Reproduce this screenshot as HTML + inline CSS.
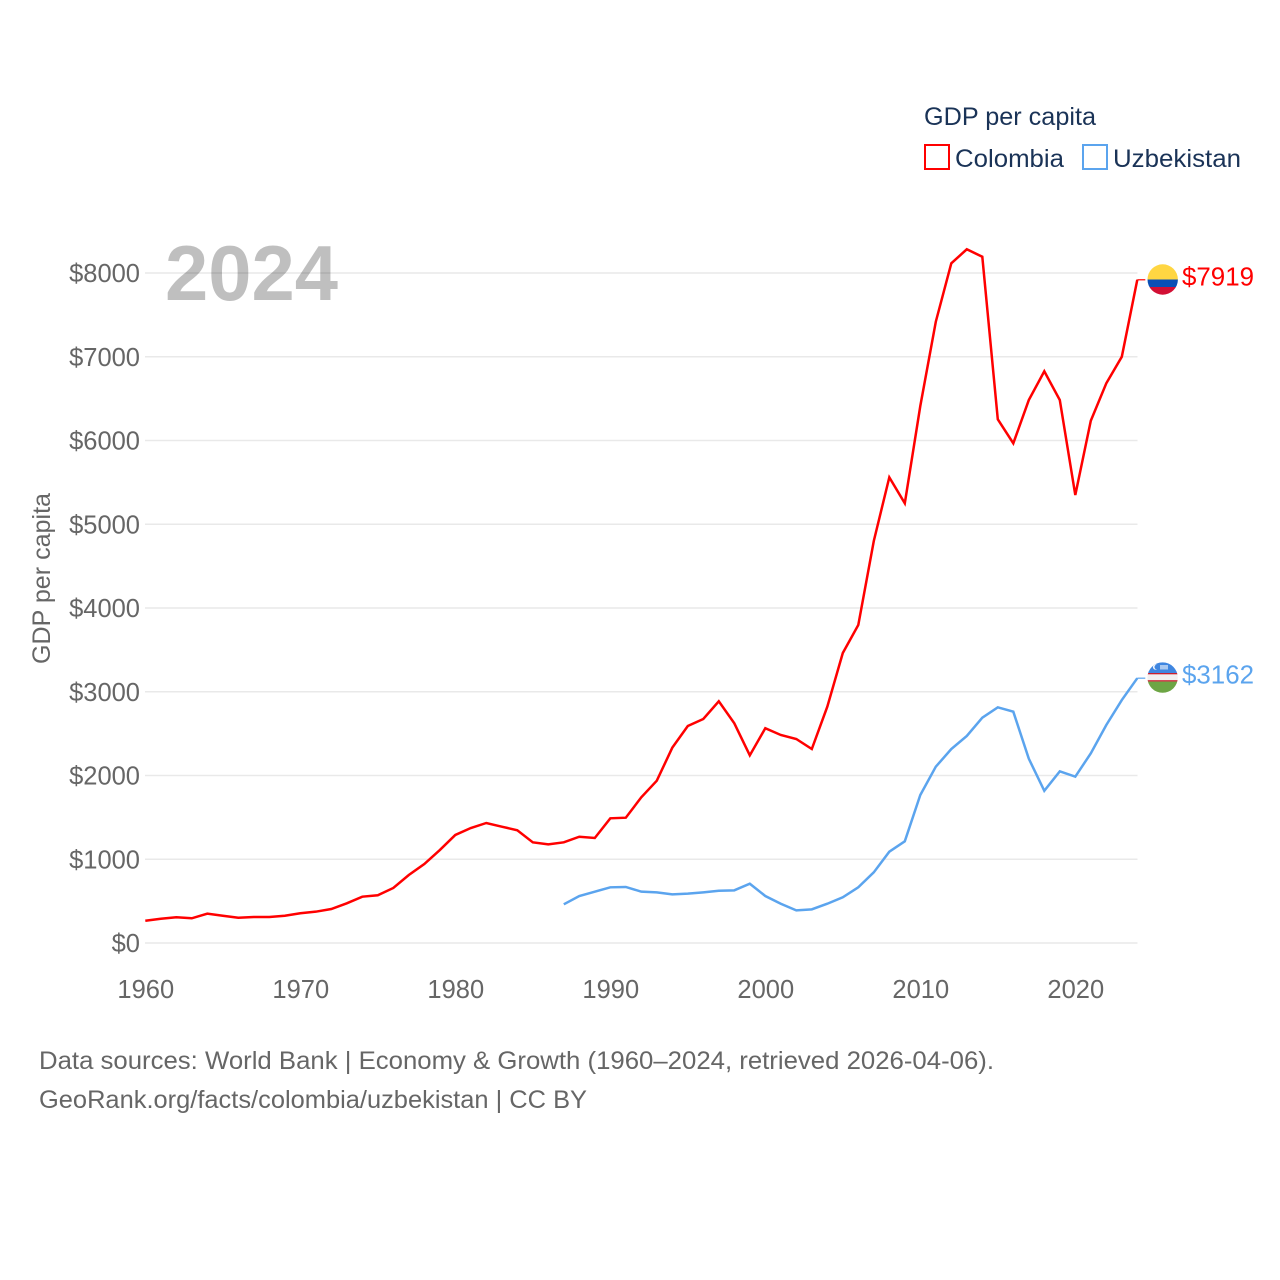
<!DOCTYPE html>
<html lang="en">
<head>
<meta charset="utf-8">
<title>GDP per capita: Colombia and Uzbekistan</title>
<style>
html,body{margin:0;padding:0;background:#fff;width:1280px;height:1280px;overflow:hidden}
svg{display:block}
text{font-family:"Liberation Sans",sans-serif}
</style>
</head>
<body>
<svg id="chart" xmlns="http://www.w3.org/2000/svg" width="1280" height="1280" viewBox="0 0 1280 1280">
  <defs>
    <clipPath id="clip-co"><circle cx="1162.7" cy="279.5" r="15.2"/></clipPath>
    <clipPath id="clip-uz"><circle cx="1162.6" cy="677.6" r="15.2"/></clipPath>
  </defs>
  <rect width="1280" height="1280" fill="#ffffff"/>
  <g id="grid"></g>
  <g id="yticks"></g>
  <g id="xticks"></g>
  <text x="165" y="300" font-size="78" font-weight="bold" fill="#000000" fill-opacity="0.25" textLength="173" lengthAdjust="spacingAndGlyphs">2024</text>
  <text transform="translate(50,578.5) rotate(-90)" text-anchor="middle" font-size="25" fill="#666666" textLength="171" lengthAdjust="spacingAndGlyphs">GDP per capita</text>
  <g id="series"></g>

  <g clip-path="url(#clip-co)">
    <rect x="1145" y="262" width="36" height="17.5" fill="#ffd642"/>
    <rect x="1145" y="279.5" width="36" height="7.5" fill="#0a4fb5"/>
    <rect x="1145" y="287" width="36" height="10" fill="#d20f34"/>
  </g>
  <text x="1182" y="285.5" font-size="25.5" fill="#ff0000" textLength="72" lengthAdjust="spacingAndGlyphs">$7919</text>

  <g clip-path="url(#clip-uz)">
    <rect x="1145" y="660" width="36" height="13" fill="#3f86e0"/>
    <rect x="1145" y="673" width="36" height="1.4" fill="#c9202f"/>
    <rect x="1145" y="674.4" width="36" height="5.8" fill="#f2f0f0"/>
    <rect x="1145" y="680.2" width="36" height="1.4" fill="#c9202f"/>
    <rect x="1145" y="681.6" width="36" height="14.4" fill="#6da544"/>
    <circle cx="1155.5" cy="667" r="2.6" fill="#f2f6fc"/>
    <circle cx="1156.8" cy="667" r="2.3" fill="#3f86e0"/>
    <rect x="1160" y="665" width="8" height="4.5" fill="#a9c8f0"/>
  </g>
  <text x="1182" y="683.5" font-size="25.5" fill="#5ba4ee" textLength="72" lengthAdjust="spacingAndGlyphs">$3162</text>

  <g>
    <text x="924" y="125" font-size="25" fill="#1a3357" textLength="172" lengthAdjust="spacingAndGlyphs">GDP per capita</text>
    <g>
      <rect x="925" y="145" width="24" height="24" fill="#ffffff" stroke="#ff0000" stroke-width="2"/>
      <text x="955" y="167" font-size="25" fill="#1a3357" textLength="109" lengthAdjust="spacingAndGlyphs">Colombia</text>
    </g>
    <g>
      <rect x="1083" y="145" width="24" height="24" fill="#ffffff" stroke="#5ba4ee" stroke-width="2"/>
      <text x="1113" y="167" font-size="25" fill="#1a3357" textLength="128" lengthAdjust="spacingAndGlyphs">Uzbekistan</text>
    </g>
  </g>

  <text x="39" y="1069" font-size="25" fill="#666666" textLength="955" lengthAdjust="spacingAndGlyphs">Data sources: World Bank | Economy &amp; Growth (1960–2024, retrieved 2026-04-06).</text>
  <text x="39" y="1108" font-size="25" fill="#666666" textLength="548" lengthAdjust="spacingAndGlyphs">GeoRank.org/facts/colombia/uzbekistan | CC BY</text>
</svg>
<script>
const firstYearColombia = 1960;
const colombiaValues = [266,290,307,295,350,326,302,310,310,326,355,374,406,474,553,570,657,812,943,1110,1290,1373,1433,1389,1346,1202,1178,1202,1269,1254,1489,1496,1740,1938,2332,2591,2675,2886,2623,2241,2564,2484,2436,2316,2821,3463,3797,4800,5560,5250,6412,7418,8116,8283,8194,6253,5966,6483,6826,6483,5349,6236,6683,7000,7919];
const firstYearUzbekistan = 1987;
const uzbekistanValues = [462,561,613,665,669,613,605,581,589,605,624,629,708,561,469,390,402,469,546,665,844,1090,1214,1767,2105,2316,2472,2690,2814,2762,2201,1818,2050,1986,2265,2603,2901,3162];
const yTickValues = [0,1000,2000,3000,4000,5000,6000,7000,8000];
const xTickYears = [1960,1970,1980,1990,2000,2010,2020];

const NS = 'http://www.w3.org/2000/svg';
function xScale(year){ return 145.3 + (year - 1960) * 15.5; }
function yScale(value){ return 943 - value * 0.08375; }

const gridGroup = document.getElementById('grid');
const yTickGroup = document.getElementById('yticks');
const xTickGroup = document.getElementById('xticks');
const seriesGroup = document.getElementById('series');

yTickValues.forEach(function(v){
  const line = document.createElementNS(NS, 'line');
  
  
  line.setAttribute('x1', 145);
  line.setAttribute('x2', 1137.5);
  line.setAttribute('y1', yScale(v));
  line.setAttribute('y2', yScale(v));
  line.setAttribute('stroke', '#e9e9e9');
  line.setAttribute('stroke-width', '1.4');
  gridGroup.appendChild(line);

  const label = document.createElementNS(NS, 'text');
  
  
  label.setAttribute('x', 140);
  label.setAttribute('y', yScale(v) + 9);
  label.setAttribute('text-anchor', 'end');
  label.setAttribute('font-size', '25.5');
  label.setAttribute('fill', '#666666');
  label.textContent = '$' + v;
  yTickGroup.appendChild(label);
});

xTickYears.forEach(function(y){
  const label = document.createElementNS(NS, 'text');
  
  
  label.setAttribute('x', xScale(y) + 0.5);
  label.setAttribute('y', 998);
  label.setAttribute('text-anchor', 'middle');
  label.setAttribute('font-size', '25.5');
  label.setAttribute('fill', '#666666');
  label.textContent = String(y);
  xTickGroup.appendChild(label);
});

function pointsFor(values, firstYear){
  return values.map(function(v, i){
    return xScale(firstYear + i).toFixed(2) + ',' + yScale(v).toFixed(2);
  });
}

function addTail(values, firstYear, color){
  const last = values[values.length - 1];
  const lastX = xScale(firstYear + values.length - 1);
  const tail = document.createElementNS(NS, 'line');
  
  
  tail.setAttribute('x1', lastX);
  tail.setAttribute('x2', lastX + 8);
  tail.setAttribute('y1', yScale(last));
  tail.setAttribute('y2', yScale(last));
  tail.setAttribute('stroke', color);
  tail.setAttribute('stroke-width', '1.2');
  seriesGroup.appendChild(tail);
}

const colombiaLine = document.createElementNS(NS, 'polyline');


colombiaLine.setAttribute('points', pointsFor(colombiaValues, firstYearColombia).join(' '));
colombiaLine.setAttribute('fill', 'none');
colombiaLine.setAttribute('stroke', '#ff0000');
colombiaLine.setAttribute('stroke-width', '2.5');
colombiaLine.setAttribute('stroke-linejoin', 'miter');
seriesGroup.appendChild(colombiaLine);
addTail(colombiaValues, firstYearColombia, '#ff0000');

const uzbekistanLine = document.createElementNS(NS, 'polyline');


uzbekistanLine.setAttribute('points', pointsFor(uzbekistanValues, firstYearUzbekistan).join(' '));
uzbekistanLine.setAttribute('fill', 'none');
uzbekistanLine.setAttribute('stroke', '#5ba4ee');
uzbekistanLine.setAttribute('stroke-width', '2.5');
uzbekistanLine.setAttribute('stroke-linejoin', 'miter');
seriesGroup.appendChild(uzbekistanLine);
addTail(uzbekistanValues, firstYearUzbekistan, '#5ba4ee');
</script>
</body>
</html>
